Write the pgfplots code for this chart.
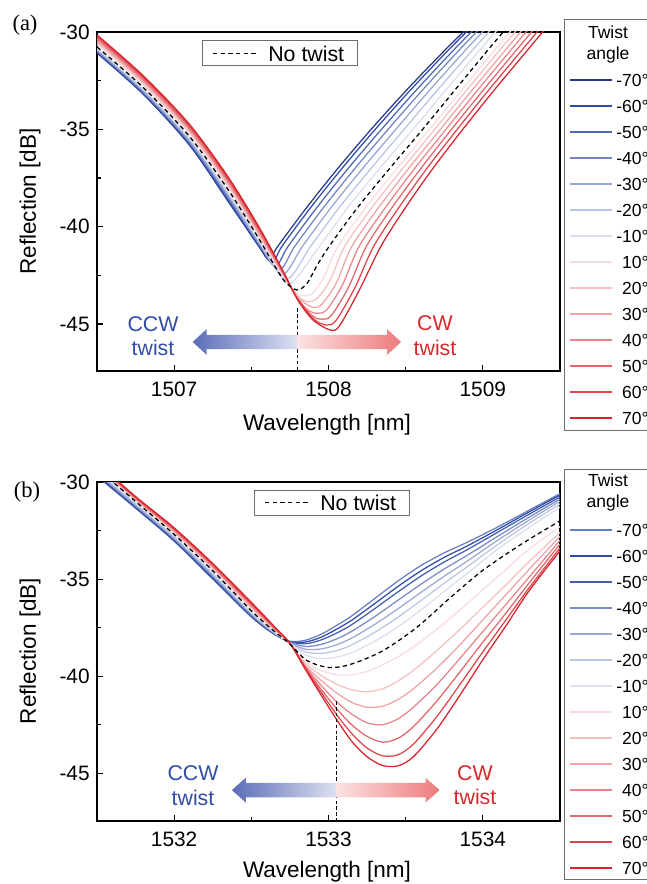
\documentclass[border=0pt]{standalone}
\usepackage{fontspec}
\setmainfont{Liberation Sans}
\newfontfamily\tnr{Liberation Serif}
\usepackage{pgfplots}
\pgfplotsset{compat=1.18}
\definecolor{cb}{HTML}{2E4CA6}
\definecolor{cbd}{HTML}{26388C}
\definecolor{cr}{HTML}{D9232A}
\definecolor{ccw}{HTML}{2F4DA8}
\definecolor{cwt}{HTML}{D8282B}
\definecolor{boxc}{HTML}{6E6E6E}
\definecolor{al}{HTML}{5B6DB8}
\definecolor{alc}{HTML}{DDE1F1}
\definecolor{arc}{HTML}{FBE2E2}
\definecolor{ard}{HTML}{EE7A7C}
% curve colours, panel (a)
\colorlet{an7}{cbd}\colorlet{an6}{cb}\colorlet{an5}{cb!85}\colorlet{an4}{cb!68}
\colorlet{an3}{cb!50}\colorlet{an2}{cb!33}\colorlet{an1}{cb!18}
% panel (b)
\colorlet{bn7}{cb!72}\colorlet{bn6}{cb}\colorlet{bn5}{cb!90}\colorlet{bn4}{cb!65}
\colorlet{bn3}{cb!48}\colorlet{bn2}{cb!32}\colorlet{bn1}{cb!18}
% positive angles, both panels
\colorlet{p1}{cr!16}\colorlet{p2}{cr!28}\colorlet{p3}{cr!42}\colorlet{p4}{cr!56}
\colorlet{p5}{cr!70}\colorlet{p6}{cr!85}\colorlet{p7}{cr}
\newcommand\leg{\fontsize{10.5}{12}\selectfont}

\pgfplotsset{
  refl/.style={
    scale only axis, width=277.8pt, height=203.4pt,
    axis line style={line width=0.8pt},
    tick align=inside, xtick pos=left, ytick pos=left,
    major tick length=3.6pt, minor tick length=2.4pt,
    every tick/.style={black, line width=0.7pt},
    tick label style={font=\fontsize{12.5}{14}\selectfont},
    xticklabel style={inner sep=0pt, yshift=-6.5pt},
    yticklabel style={inner sep=0pt, xshift=-4.2pt},
    ytick={-45,-40,-35,-30}, yticklabels={-45,-40,-35,-30},
    minor ytick={-42.5,-37.5,-32.5},
    ymax=-30,
    every axis plot/.append style={line width=0.75pt, smooth, tension=0.5},
  },
}

\begin{document}
\begin{tikzpicture}[x=0.6pt,y=-0.6pt]
\useasboundingbox (0,0) rectangle (646,884);
\coordinate (pa) at (97,371);
\coordinate (pb) at (97,821);

% ---------------- panel (a)
\begin{axis}[refl, at={(pa)}, anchor=south west,
  xmin=1506.5, xmax=1509.5, ymin=-47.41,
  xtick={1507,1508,1509}, xticklabels={1507,1508,1509},
  minor xtick={1507.5,1508.5}]
\addplot[an7] coordinates {(1506.5,-31.08) (1506.8,-33.20) (1507.1,-35.82) (1507.35,-38.70) (1507.55,-41.03) (1507.615,-41.7) (1507.672,-41) (1507.86,-39) (1508.061,-37) (1508.276,-35) (1508.504,-33) (1508.746,-31) (1508.937,-29.5)};
\addplot[an6] coordinates {(1506.5,-31.05) (1506.8,-33.17) (1507.1,-35.78) (1507.35,-38.64) (1507.55,-40.99) (1507.635,-41.85) (1507.699,-41) (1507.886,-39) (1508.088,-37) (1508.303,-35) (1508.529,-33) (1508.768,-31) (1508.957,-29.5)};
\addplot[an5] coordinates {(1506.5,-31.01) (1506.8,-33.12) (1507.1,-35.72) (1507.35,-38.57) (1507.55,-40.94) (1507.655,-42.02) (1507.739,-41) (1507.926,-39) (1508.128,-37) (1508.343,-35) (1508.567,-33) (1508.802,-31) (1508.987,-29.5)};
\addplot[an4] coordinates {(1506.5,-30.97) (1506.8,-33.08) (1507.1,-35.66) (1507.35,-38.49) (1507.55,-40.89) (1507.68,-42.22) (1507.782,-41) (1507.969,-39) (1508.172,-37) (1508.386,-35) (1508.607,-33) (1508.838,-31) (1509.019,-29.5)};
\addplot[an3] coordinates {(1506.5,-30.93) (1506.8,-33.03) (1507.1,-35.60) (1507.35,-38.40) (1507.55,-40.83) (1507.70,-42.45) (1507.832,-41) (1508.018,-39) (1508.222,-37) (1508.436,-35) (1508.654,-33) (1508.880,-31) (1509.056,-29.5)};
\addplot[an2] coordinates {(1506.5,-30.88) (1506.8,-32.97) (1507.1,-35.53) (1507.35,-38.31) (1507.55,-40.77) (1507.725,-42.7) (1507.885,-41) (1508.071,-39) (1508.276,-37) (1508.490,-35) (1508.704,-33) (1508.925,-31) (1509.096,-29.5)};
\addplot[an1] coordinates {(1506.5,-30.83) (1506.8,-32.91) (1507.1,-35.45) (1507.35,-38.21) (1507.55,-40.70) (1507.65,-41.95) (1507.75,-42.95) (1507.942,-41) (1508.127,-39) (1508.333,-37) (1508.547,-35) (1508.758,-33) (1508.972,-31) (1509.138,-29.5)};
\addplot[p1] coordinates {(1506.5,-30.65) (1506.8,-32.73) (1507.1,-35.25) (1507.35,-37.97) (1507.55,-40.51) (1507.7,-42.45) (1507.78,-43.3) (1507.84,-43.55) (1507.9,-43.4) (1507.97,-42.6) (1508.062,-41) (1508.243,-39) (1508.445,-37) (1508.654,-35) (1508.860,-33) (1509.069,-31) (1509.228,-29.5)};
\addplot[p2] coordinates {(1506.5,-30.55) (1506.8,-32.64) (1507.1,-35.15) (1507.35,-37.87) (1507.55,-40.42) (1507.7,-42.4) (1507.8,-43.55) (1507.87,-43.85) (1507.93,-43.65) (1508.01,-42.75) (1508.106,-41) (1508.283,-39) (1508.481,-37) (1508.688,-35) (1508.894,-33) (1509.102,-31) (1509.262,-29.5)};
\addplot[p3] coordinates {(1506.5,-30.46) (1506.8,-32.55) (1507.1,-35.06) (1507.35,-37.78) (1507.55,-40.33) (1507.7,-42.35) (1507.8,-43.62) (1507.9,-44.15) (1507.96,-43.95) (1508.05,-42.9) (1508.152,-41) (1508.326,-39) (1508.520,-37) (1508.724,-35) (1508.929,-33) (1509.138,-31) (1509.297,-29.5)};
\addplot[p4] coordinates {(1506.5,-30.38) (1506.8,-32.47) (1507.1,-34.98) (1507.35,-37.69) (1507.55,-40.25) (1507.7,-42.3) (1507.8,-43.68) (1507.87,-44.3) (1507.93,-44.45) (1507.99,-44.25) (1508.09,-43.0) (1508.199,-41) (1508.370,-39) (1508.559,-37) (1508.761,-35) (1508.965,-33) (1509.174,-31) (1509.333,-29.5)};
\addplot[p5] coordinates {(1506.5,-30.30) (1506.8,-32.39) (1507.1,-34.90) (1507.35,-37.61) (1507.55,-40.17) (1507.7,-42.25) (1507.8,-43.71) (1507.9,-44.6) (1507.96,-44.75) (1508.02,-44.55) (1508.13,-43.1) (1508.246,-41) (1508.413,-39) (1508.599,-37) (1508.797,-35) (1509.001,-33) (1509.210,-31) (1509.369,-29.5)};
\addplot[p6] coordinates {(1506.5,-30.22) (1506.8,-32.32) (1507.1,-34.82) (1507.35,-37.53) (1507.55,-40.09) (1507.7,-42.22) (1507.8,-43.73) (1507.9,-44.72) (1507.985,-45.05) (1508.05,-44.8) (1508.17,-43.15) (1508.293,-41) (1508.457,-39) (1508.638,-37) (1508.834,-35) (1509.036,-33) (1509.246,-31) (1509.404,-29.5)};
\addplot[p7] coordinates {(1506.5,-30.15) (1506.8,-32.25) (1507.1,-34.75) (1507.35,-37.45) (1507.55,-40.02) (1507.7,-42.2) (1507.8,-43.75) (1507.9,-44.79) (1508.01,-45.3) (1508.07,-45.1) (1508.2,-43.25) (1508.34,-41) (1508.5,-39) (1508.677,-37) (1508.870,-35) (1509.072,-33) (1509.282,-31) (1509.44,-29.5)};
\addplot[black, dash pattern=on 2.6pt off 2pt] coordinates {(1506.5,-30.77) (1506.8,-32.85) (1507.1,-35.37) (1507.35,-38.10) (1507.55,-40.63) (1507.65,-42.0) (1507.72,-42.84) (1507.796,-43.25) (1507.86,-42.92) (1507.925,-42.0) (1508.005,-41) (1508.19,-39) (1508.397,-37) (1508.61,-35) (1508.817,-33) (1509.025,-31) (1509.185,-29.5)};
\draw[black, dash pattern=on 2pt off 1.5pt, line width=0.6pt] (axis cs:1507.8,-44.2) -- (axis cs:1507.8,-47.41);
\shade[left color=al, right color=alc] (axis cs:1507.8,-45.55) -- (axis cs:1507.21,-45.55) -- (axis cs:1507.21,-45.26) -- (axis cs:1507.12,-45.92) -- (axis cs:1507.21,-46.58) -- (axis cs:1507.21,-46.29) -- (axis cs:1507.8,-46.29) -- cycle;
\shade[left color=arc, right color=ard] (axis cs:1507.8,-45.55) -- (axis cs:1508.38,-45.55) -- (axis cs:1508.38,-45.26) -- (axis cs:1508.47,-45.92) -- (axis cs:1508.38,-46.58) -- (axis cs:1508.38,-46.29) -- (axis cs:1507.8,-46.29) -- cycle;
\end{axis}

% ---------------- panel (b)
\begin{axis}[refl, at={(pb)}, anchor=south west,
  xmin=1531.5, xmax=1534.5, ymin=-47.46,
  xtick={1532,1533,1534}, xticklabels={1532,1533,1534},
  minor xtick={1532.5,1533.5}]
\addplot[bn7] coordinates {(1531.5,-29.7) (1531.75,-31.35) (1532.0,-33.05) (1532.25,-35.0) (1532.5,-36.95) (1532.65,-37.85) (1532.75,-38.2) (1532.85,-38.15) (1532.95,-37.85) (1533.05,-37.4) (1533.15,-36.9) (1533.3,-36.0) (1533.45,-35.1) (1533.6,-34.3) (1533.75,-33.65) (1533.9,-33.1) (1534.1,-32.3) (1534.3,-31.45) (1534.5,-30.6)};
\addplot[bn6] coordinates {(1531.5,-29.66) (1531.75,-31.32) (1532.0,-33.02) (1532.25,-34.96) (1532.5,-36.92) (1532.65,-37.84) (1532.75,-38.22) (1532.85,-38.24) (1532.95,-38.0) (1533.05,-37.59) (1533.15,-37.12) (1533.3,-36.26) (1533.45,-35.38) (1533.6,-34.57) (1533.75,-33.88) (1533.9,-33.29) (1534.1,-32.43) (1534.3,-31.54) (1534.5,-30.67)};
\addplot[bn5] coordinates {(1531.5,-29.61) (1531.75,-31.27) (1532.0,-32.97) (1532.25,-34.91) (1532.5,-36.88) (1532.65,-37.82) (1532.75,-38.23) (1532.85,-38.33) (1532.95,-38.14) (1533.05,-37.79) (1533.15,-37.35) (1533.3,-36.52) (1533.45,-35.66) (1533.6,-34.84) (1533.75,-34.12) (1533.9,-33.48) (1534.1,-32.57) (1534.3,-31.66) (1534.5,-30.77)};
\addplot[bn4] coordinates {(1531.5,-29.56) (1531.75,-31.23) (1532.0,-32.93) (1532.25,-34.85) (1532.5,-36.84) (1532.65,-37.80) (1532.75,-38.25) (1532.85,-38.47) (1532.95,-38.37) (1533.05,-38.09) (1533.15,-37.69) (1533.3,-36.93) (1533.45,-36.09) (1533.6,-35.26) (1533.75,-34.48) (1533.9,-33.77) (1534.1,-32.78) (1534.3,-31.81) (1534.5,-30.88)};
\addplot[bn3] coordinates {(1531.5,-29.5) (1531.75,-31.18) (1532.0,-32.88) (1532.25,-34.79) (1532.5,-36.79) (1532.65,-37.78) (1532.75,-38.28) (1532.85,-38.61) (1532.95,-38.6) (1533.05,-38.39) (1533.15,-38.04) (1533.3,-37.33) (1533.45,-36.53) (1533.6,-35.68) (1533.75,-34.85) (1533.9,-34.07) (1534.1,-32.98) (1534.3,-31.96) (1534.5,-30.99)};
\addplot[bn2] coordinates {(1531.5,-29.44) (1531.75,-31.12) (1532.0,-32.82) (1532.25,-34.72) (1532.5,-36.74) (1532.65,-37.75) (1532.75,-38.30) (1532.85,-38.75) (1532.95,-38.83) (1533.05,-38.69) (1533.15,-38.39) (1533.3,-37.74) (1533.45,-36.96) (1533.6,-36.1) (1533.75,-35.21) (1533.9,-34.36) (1534.1,-33.2) (1534.3,-32.13) (1534.5,-31.13)};
\addplot[bn1] coordinates {(1531.5,-29.37) (1531.75,-31.06) (1532.0,-32.76) (1532.25,-34.65) (1532.5,-36.69) (1532.65,-37.73) (1532.75,-38.32) (1532.85,-38.91) (1532.95,-39.09) (1533.05,-39.03) (1533.15,-38.79) (1533.3,-38.2) (1533.45,-37.46) (1533.6,-36.58) (1533.75,-35.63) (1533.9,-34.7) (1534.1,-33.44) (1534.3,-32.34) (1534.5,-31.3)};
\addplot[p1] coordinates {(1531.5,-29.24) (1531.75,-30.95) (1532.0,-32.63) (1532.25,-34.50) (1532.5,-36.54) (1532.65,-37.65) (1532.75,-38.34) (1532.85,-39.25) (1532.95,-39.7) (1533.05,-39.92) (1533.15,-39.93) (1533.25,-39.75) (1533.35,-39.42) (1533.45,-39.0) (1533.55,-38.5) (1533.7,-37.6) (1533.85,-36.6) (1534.0,-35.55) (1534.15,-34.5) (1534.3,-33.45) (1534.5,-32.3)};
\addplot[p2] coordinates {(1531.5,-29.2) (1531.75,-30.91) (1532.0,-32.58) (1532.25,-34.44) (1532.5,-36.48) (1532.65,-37.61) (1532.75,-38.33) (1532.85,-39.35) (1532.95,-39.95) (1533.05,-40.4) (1533.15,-40.7) (1533.25,-40.8) (1533.35,-40.65) (1533.45,-40.25) (1533.55,-39.7) (1533.7,-38.7) (1533.85,-37.6) (1534.0,-36.45) (1534.15,-35.3) (1534.3,-34.1) (1534.5,-32.6)};
\addplot[p3] coordinates {(1531.5,-29.15) (1531.75,-30.88) (1532.0,-32.53) (1532.25,-34.39) (1532.5,-36.42) (1532.65,-37.58) (1532.75,-38.33) (1532.85,-39.45) (1532.95,-40.2) (1533.05,-40.85) (1533.15,-41.35) (1533.25,-41.6) (1533.35,-41.55) (1533.45,-41.2) (1533.55,-40.65) (1533.7,-39.6) (1533.85,-38.4) (1534.0,-37.1) (1534.15,-35.8) (1534.3,-34.5) (1534.5,-32.8)};
\addplot[p4] coordinates {(1531.5,-29.11) (1531.75,-30.84) (1532.0,-32.49) (1532.25,-34.34) (1532.5,-36.36) (1532.65,-37.54) (1532.75,-38.32) (1532.85,-39.5) (1532.95,-40.45) (1533.05,-41.3) (1533.15,-41.95) (1533.25,-42.4) (1533.35,-42.5) (1533.45,-42.2) (1533.55,-41.6) (1533.7,-40.45) (1533.85,-39.1) (1534.0,-37.7) (1534.15,-36.3) (1534.3,-34.9) (1534.5,-33.0)};
\addplot[p5] coordinates {(1531.5,-29.07) (1531.75,-30.81) (1532.0,-32.44) (1532.25,-34.29) (1532.5,-36.30) (1532.65,-37.51) (1532.75,-38.31) (1532.85,-39.55) (1532.95,-40.65) (1533.05,-41.65) (1533.15,-42.5) (1533.25,-43.1) (1533.35,-43.4) (1533.45,-43.2) (1533.55,-42.6) (1533.7,-41.3) (1533.85,-39.8) (1534.0,-38.25) (1534.15,-36.75) (1534.3,-35.2) (1534.5,-33.2)};
\addplot[p6] coordinates {(1531.5,-29.04) (1531.75,-30.78) (1532.0,-32.40) (1532.25,-34.24) (1532.5,-36.25) (1532.65,-37.48) (1532.75,-38.31) (1532.85,-39.6) (1532.95,-40.8) (1533.05,-41.95) (1533.15,-42.95) (1533.25,-43.7) (1533.35,-44.1) (1533.45,-44.05) (1533.55,-43.5) (1533.7,-42.1) (1533.85,-40.45) (1534.0,-38.75) (1534.15,-37.1) (1534.3,-35.45) (1534.5,-33.4)};
\addplot[p7] coordinates {(1531.5,-29.0) (1531.75,-30.75) (1532.0,-32.36) (1532.25,-34.2) (1532.5,-36.2) (1532.65,-37.45) (1532.75,-38.3) (1532.85,-39.65) (1532.95,-40.95) (1533.05,-42.2) (1533.15,-43.35) (1533.25,-44.15) (1533.35,-44.6) (1533.45,-44.62) (1533.55,-44.15) (1533.7,-42.75) (1533.85,-41.0) (1534.0,-39.15) (1534.15,-37.4) (1534.3,-35.6) (1534.5,-33.55)};
\addplot[black, dash pattern=on 2.6pt off 2pt] coordinates {(1531.5,-29.3) (1531.75,-31.0) (1532.0,-32.7) (1532.25,-34.57) (1532.5,-36.63) (1532.65,-37.7) (1532.75,-38.35) (1532.86,-39.19) (1533.0,-39.55) (1533.14,-39.4) (1533.35,-38.7) (1533.57,-37.5) (1533.79,-35.95) (1534.0,-34.55) (1534.25,-33.2) (1534.5,-32.0)};
\draw[black, dash pattern=on 2pt off 1.5pt, line width=0.6pt] (axis cs:1533.05,-41.3) -- (axis cs:1533.05,-47.46);
\shade[left color=al, right color=alc] (axis cs:1533.05,-45.5) -- (axis cs:1532.464,-45.5) -- (axis cs:1532.464,-45.23) -- (axis cs:1532.374,-45.87) -- (axis cs:1532.464,-46.51) -- (axis cs:1532.464,-46.24) -- (axis cs:1533.05,-46.24) -- cycle;
\shade[left color=arc, right color=ard] (axis cs:1533.05,-45.5) -- (axis cs:1533.629,-45.5) -- (axis cs:1533.629,-45.23) -- (axis cs:1533.72,-45.87) -- (axis cs:1533.629,-46.51) -- (axis cs:1533.629,-46.24) -- (axis cs:1533.05,-46.24) -- cycle;
\end{axis}

% ---------------- labels
\node[font=\tnr\fontsize{13.5}{15}\selectfont] at (25,25) {(a)};
\node[font=\tnr\fontsize{13.5}{15}\selectfont] at (27,492) {(b)};
\foreach \yc in {201.5,651} {
  \node[rotate=90, font=\fontsize{13.5}{15}\selectfont] at (30,\yc) {Reflection [dB]};
}
\node[font=\fontsize{13.5}{15}\selectfont] at (327,425) {Wavelength [nm]};
\node[font=\fontsize{13.5}{15}\selectfont] at (327,872) {Wavelength [nm]};

\begin{scope}[font=\fontsize{12.8}{14}\selectfont]
\node[text=ccw] at (153,324) {CCW};
\node[text=ccw] at (153,348) {twist};
\node[text=cwt] at (435,323) {CW};
\node[text=cwt] at (435,348) {twist};
\node[text=ccw] at (193,773) {CCW};
\node[text=ccw] at (193,798) {twist};
\node[text=cwt] at (475,773) {CW};
\node[text=cwt] at (475,797) {twist};
\end{scope}

% no-twist boxes
\draw[boxc, line width=0.6pt] (202,41) rectangle (357,66);
\draw[black, dash pattern=on 2.6pt off 2pt, line width=0.75pt] (213,53.5) -- (257,53.5);
\node[anchor=west, inner sep=0pt, font=\fontsize{12.8}{14}\selectfont] at (268,53.5) {No twist};
\draw[boxc, line width=0.6pt] (254,490) rectangle (409,515);
\draw[black, dash pattern=on 2.6pt off 2pt, line width=0.75pt] (265,502.5) -- (309,502.5);
\node[anchor=west, inner sep=0pt, font=\fontsize{12.8}{14}\selectfont] at (320,502.5) {No twist};

% twist-angle legends
\draw[boxc, line width=0.6pt] (564,20) rectangle (720,430);
\node[font=\leg] at (608,32) {Twist};
\node[font=\leg] at (608,55) {angle};
\foreach \c/\t [count=\i from 0] in {an7/-70,an6/-60,an5/-50,an4/-40,an3/-30,an2/-20,an1/-10,p1/10,p2/20,p3/30,p4/40,p5/50,p6/60,p7/70} {
  \draw[\c, line width=0.75pt] (570,80+26*\i) -- (612,80+26*\i);
  \node[anchor=east, inner sep=0pt, font=\leg] at (649,80+26*\i) {\t°};
}
\draw[boxc, line width=0.6pt] (564,469) rectangle (720,879);
\node[font=\leg] at (608,480) {Twist};
\node[font=\leg] at (608,503) {angle};
\foreach \c/\t [count=\i from 0] in {bn7/-70,bn6/-60,bn5/-50,bn4/-40,bn3/-30,bn2/-20,bn1/-10,p1/10,p2/20,p3/30,p4/40,p5/50,p6/60,p7/70} {
  \draw[\c, line width=0.75pt] (570,530+26*\i) -- (612,530+26*\i);
  \node[anchor=east, inner sep=0pt, font=\leg] at (649,530+26*\i) {\t°};
}
\end{tikzpicture}
\end{document}
